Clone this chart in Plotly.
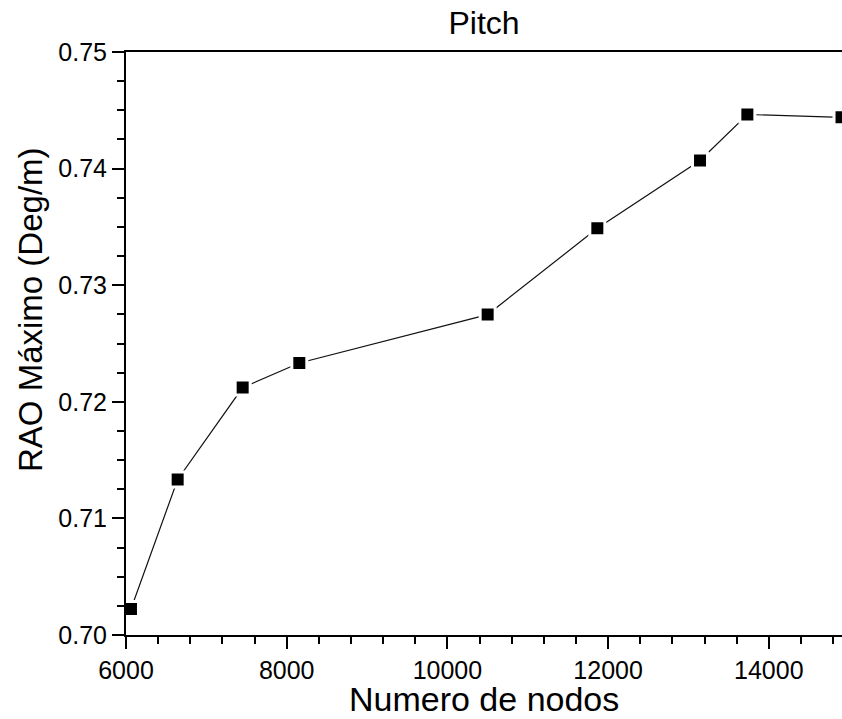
import plotly.graph_objects as go

nodos = [6062, 6643, 7452, 8157, 10501, 11866, 13144, 13733, 14905]
rao = [0.70223, 0.71334, 0.72122, 0.72333, 0.72748, 0.73488, 0.74070, 0.74464, 0.74440]

x_ticks = [6000, 8000, 10000, 12000, 14000]
y_ticks = [0.70, 0.71, 0.72, 0.73, 0.74, 0.75]

title_text = "Pitch"
x_title = "Numero de nodos"
y_title = "RAO Máximo (Deg/m)"

FONT = "Liberation Sans, Arial, sans-serif"

W, H = 842, 719
L, T, B = 126, 52, 84
PW, PH = W - L, H - T - B

fig = go.Figure()
fig.add_trace(go.Scatter(
    x=nodos, y=rao, mode="lines+markers",
    line=dict(color="#111111", width=1.2),
    marker=dict(symbol="square", size=15, color="black",
                line=dict(color="white", width=3)),
    showlegend=False, cliponaxis=False,
))

fig.update_layout(
    width=W, height=H,
    margin=dict(l=L, r=0, t=T, b=B, pad=0),
    paper_bgcolor="white", plot_bgcolor="white",
    font=dict(family=FONT, color="black"),
    title=dict(text=title_text, x=(L + W) / 2 / W, xanchor="center",
               y=(H - 23) / H, yanchor="middle", yref="container",
               font=dict(size=32, family=FONT, color="black")),
)

fig.update_xaxes(
    range=[6000, 14911], tickvals=x_ticks, ticktext=[str(v) for v in x_ticks],
    showgrid=False, zeroline=False,
    showline=True, linecolor="black", linewidth=2, mirror=True,
    ticks="outside", ticklen=12, tickwidth=2, tickcolor="black",
    tickfont=dict(size=25, family=FONT, color="black"),
    minor=dict(dtick=400, tick0=6000, ticks="outside", ticklen=7, tickwidth=1.5, tickcolor="black", showgrid=False),
)
fig.update_yaxes(
    range=[0.70, 0.75], tickvals=y_ticks, ticktext=[f"{v:.2f}" for v in y_ticks],
    showgrid=False, zeroline=False,
    showline=True, linecolor="black", linewidth=2, mirror=False,
    ticks="outside", ticklen=12, tickwidth=2, tickcolor="black",
    tickfont=dict(size=25, family=FONT, color="black"),
    minor=dict(dtick=0.0025, tick0=0.70, ticks="outside", ticklen=7, tickwidth=1.5, tickcolor="black", showgrid=False),
)

fig.add_annotation(text=x_title, xref="paper", yref="paper", x=0.5, y=(635 - 699) / PH,
                   xanchor="center", yanchor="middle", showarrow=False,
                   font=dict(size=34, family=FONT, color="black"))
fig.add_annotation(text=y_title, xref="paper", yref="paper", x=(30 - 126) / PW, y=(635 - 310) / PH,
                   xanchor="center", yanchor="middle", textangle=-90, showarrow=False,
                   font=dict(size=33, family=FONT, color="black"))

# remove the default page margin so the figure fills the window exactly
fig.write_html("out.html",
               config={"displayModeBar": False},
               post_script="document.body.style.margin='0';document.body.style.overflow='hidden';")
